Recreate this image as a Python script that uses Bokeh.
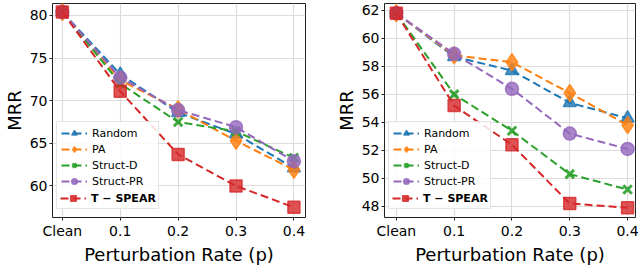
from bokeh.plotting import figure
from bokeh.models import Range1d, FixedTicker, Legend, LegendItem
from bokeh.layouts import row
from bokeh.embed import file_html
from bokeh.resources import INLINE

# ---- data ----
categories = ["Clean", "0.1", "0.2", "0.3", "0.4"]
series_names = ["Random", "PA", "Struct-D", "Struct-PR", "T \u2212 SPEAR"]

left_random = [80.4, 73.1, 68.6, 66.1, 62.1]
left_pa = [80.4, 72.4, 69.0, 65.3, 61.9]
left_struct_d = [80.4, 72.0, 67.5, 66.4, 63.3]
left_struct_pr = [80.4, 72.7, 68.9, 66.9, 62.9]
left_tspear = [80.4, 71.1, 63.7, 60.0, 57.5]

right_random = [61.8, 58.7, 57.7, 55.4, 54.3]
right_pa = [61.8, 58.8, 58.3, 56.1, 53.8]
right_struct_d = [61.8, 56.0, 53.4, 50.3, 49.2]
right_struct_pr = [61.8, 58.9, 56.4, 53.2, 52.1]
right_tspear = [61.8, 55.2, 52.4, 48.2, 47.9]

left_yticks = [60, 65, 70, 75, 80]
right_yticks = [48, 50, 52, 54, 56, 58, 60, 62]

colors = ["#1f77b4", "#ff7f0e", "#2ca02c", "#9467bd", "#d62728"]
markers = ["triangle", "diamond", "x", "circle", "square"]
msizes = [13, 17, 12, 13, 12]

FONT = "DejaVu Sans"


def make_panel(series, x_start, x_end, y_start, y_end, yticks, width, border_right):
    p = figure(width=width, height=267, output_backend="svg", toolbar_location=None,
               x_range=Range1d(x_start, x_end), y_range=Range1d(y_start, y_end),
               min_border_left=40, min_border_right=border_right,
               min_border_top=3, min_border_bottom=45)
    p.background_fill_color = "white"
    p.border_fill_color = "white"
    p.outline_line_color = "#222222"
    p.outline_line_width = 1

    xs = list(range(len(categories)))
    p.xaxis.ticker = FixedTicker(ticks=xs)
    p.xaxis.major_label_overrides = {i: c for i, c in enumerate(categories)}
    p.yaxis.ticker = FixedTicker(ticks=yticks)
    for ax in (p.xaxis, p.yaxis):
        ax.axis_line_color = None
        ax.major_tick_line_color = "#222222"
        ax.major_tick_out = 3
        ax.major_tick_in = 0
        ax.minor_tick_line_color = None
        ax.major_label_text_font = FONT
        ax.major_label_text_font_size = "14px"
        ax.major_label_text_color = "black"
        ax.major_label_standoff = 2
        ax.axis_label_text_font = FONT
        ax.axis_label_text_font_size = "18px"
        ax.axis_label_text_font_style = "normal"
        ax.axis_label_text_color = "black"
        ax.axis_label_standoff = 2
    p.xaxis.axis_label = "Perturbation Rate (p)"
    p.yaxis.axis_label = "MRR"
    p.xgrid.ticker = FixedTicker(ticks=xs)
    p.ygrid.ticker = FixedTicker(ticks=yticks)
    p.grid.grid_line_color = "#dcdcdc"
    p.grid.grid_line_width = 1.2

    items = []
    for name, vals, c, m, s in zip(series_names, series, colors, markers, msizes):
        ln = p.line(xs, vals, line_color=c, line_width=2, line_dash="8 4")
        if m == "x":
            sc = p.scatter(xs, vals, marker=m, size=s, line_color=c, line_width=3, line_alpha=0.9)
        else:
            sc = p.scatter(xs, vals, marker=m, size=s, fill_color=c, fill_alpha=0.8,
                           line_color=c, line_alpha=0.8, line_width=1.5)
        items.append((name, [ln, sc]))

    def style(lg):
        lg.label_text_font = FONT
        lg.label_text_font_size = "11px"
        lg.label_text_color = "black"
        lg.glyph_width = 26
        lg.glyph_height = 14
        lg.label_height = 14
        lg.label_standoff = 5
        lg.spacing = 2
        lg.margin = 0

    # main legend box (last row label blank; bold label overlaid below)
    main_items = [LegendItem(label=n, renderers=r) for n, r in items[:4]]
    main_items.append(LegendItem(label=" ", renderers=items[4][1]))
    lg1 = Legend(items=main_items, location=(4, 8))
    style(lg1)
    lg1.padding = 4
    lg1.label_width = 62
    lg1.border_line_color = "#cccccc"
    lg1.border_line_width = 1
    lg1.background_fill_color = "white"
    lg1.background_fill_alpha = 0.85
    lg1.label_text_font_style = "normal"

    lg2 = Legend(items=[LegendItem(label=items[4][0], renderers=items[4][1])],
                 location=(8, 12))
    style(lg2)
    lg2.padding = 0
    lg2.border_line_color = None
    lg2.background_fill_color = "white"
    lg2.background_fill_alpha = 1.0
    lg2.label_text_font_style = "bold"

    p.add_layout(lg1)
    p.add_layout(lg2)
    return p


p1 = make_panel([left_random, left_pa, left_struct_d, left_struct_pr, left_tspear],
                -0.17, 4.2, 56.3, 81.4, left_yticks, 332, 27)
p2 = make_panel([right_random, right_pa, right_struct_d, right_struct_pr, right_tspear],
                -0.205, 4.137, 47.2, 62.5, right_yticks, 308, 5)

layout = row(p1, p2, spacing=0)
open("out.html", "w").write(file_html(layout, INLINE))
